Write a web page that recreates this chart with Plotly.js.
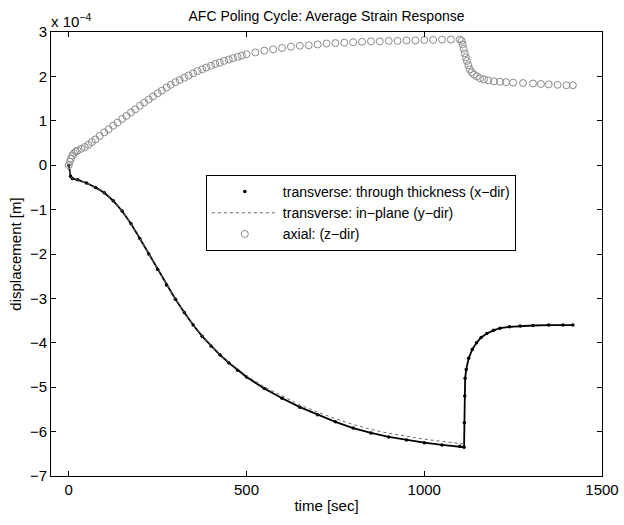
<!DOCTYPE html>
<html>
<head>
<meta charset="utf-8">
<script src="https://cdn.plot.ly/plotly-3.0.1.min.js"></script>
<style>html,body{margin:0;padding:0;background:#fff;}#chart{width:624px;height:525px;}</style>
</head>
<body>
<div id="chart"></div>
<script>
// time [sec] and displacement values (units of 1e-4 m)
var tThick = [0,5,10,25,50,75,100,125,150,175,200,225,250,275,300,325,350,375,400,425,450,475,500,550,600,650,700,750,800,850,900,950,1000,1050,1100,1112,1113,1114,1115,1118,1125,1135,1147,1160,1176,1195,1213,1240,1270,1306,1350,1390,1418];
var vThick = [0,-0.25,-0.30,-0.33,-0.40,-0.50,-0.62,-0.80,-1.03,-1.32,-1.65,-2.00,-2.35,-2.70,-3.02,-3.32,-3.60,-3.85,-4.07,-4.27,-4.45,-4.62,-4.77,-5.03,-5.25,-5.45,-5.62,-5.78,-5.92,-6.03,-6.12,-6.19,-6.25,-6.30,-6.33,-6.35,-5.80,-5.20,-4.80,-4.60,-4.35,-4.15,-4.00,-3.88,-3.79,-3.72,-3.67,-3.64,-3.62,-3.61,-3.60,-3.60,-3.60];

var tPlane = [0,5,10,25,50,75,100,125,150,175,200,225,250,275,300,325,350,375,400,425,450,475,500,550,600,650,700,750,800,850,900,950,1000,1050,1100,1112];
var vPlane = [0,-0.25,-0.30,-0.33,-0.40,-0.50,-0.62,-0.80,-1.03,-1.32,-1.65,-2.00,-2.35,-2.70,-3.02,-3.32,-3.60,-3.85,-4.07,-4.27,-4.44,-4.60,-4.74,-4.99,-5.20,-5.40,-5.56,-5.71,-5.84,-5.95,-6.04,-6.11,-6.17,-6.22,-6.26,-6.28];

var tAxial = [0,3,6,10,15,20,25,35,45,55,65,75,87,100,112,125,137,150,162,175,187,200,212,225,237,250,262,275,287,300,312,325,337,350,362,375,387,400,412,425,437,450,462,475,487,500,525,550,575,600,625,650,675,700,725,750,775,800,825,850,875,900,925,950,975,1000,1025,1050,1075,1100,1105,1108,1111,1114,1117,1120,1124,1128,1134,1140,1148,1157,1168,1180,1196,1213,1230,1250,1278,1306,1328,1350,1375,1400,1418];
var vAxial = [0,0.08,0.15,0.22,0.27,0.31,0.33,0.37,0.41,0.46,0.52,0.58,0.66,0.74,0.81,0.89,0.96,1.04,1.11,1.19,1.26,1.34,1.41,1.48,1.55,1.62,1.68,1.75,1.81,1.87,1.92,1.97,2.02,2.07,2.12,2.16,2.20,2.24,2.28,2.31,2.35,2.38,2.41,2.44,2.47,2.50,2.54,2.58,2.61,2.64,2.67,2.69,2.70,2.72,2.74,2.75,2.76,2.77,2.78,2.79,2.79,2.80,2.80,2.81,2.81,2.82,2.82,2.83,2.83,2.83,2.80,2.72,2.62,2.52,2.43,2.35,2.25,2.16,2.09,2.04,2.00,1.96,1.93,1.91,1.89,1.88,1.87,1.86,1.85,1.84,1.83,1.82,1.81,1.80,1.80];

var names = ['transverse: through thickness (x\u2212dir)','transverse: in\u2212plane (y\u2212dir)','axial: (z\u2212dir)'];
var xTicks = [0,500,1000,1500];
var yTicks = [-7,-6,-5,-4,-3,-2,-1,0,1,2,3];

var fam = '"Liberation Sans", Arial, sans-serif';
var tickFont = {family:fam, size:15, color:'#000'};
var titleFont = {family:fam, size:14, color:'#000'};
var legFont = {family:fam, size:14, color:'#000'};

var traces = [
  {x:tThick, y:vThick, mode:'lines', line:{color:'#000', width:1.8}, showlegend:false, hoverinfo:'skip'},
  {x:tThick, y:vThick, mode:'markers', name:names[0], marker:{symbol:'circle', size:3.5, color:'#000'}},
  {x:tPlane, y:vPlane, mode:'lines', name:names[1], line:{color:'#666', width:1, dash:'dot'}},
  {x:tAxial, y:vAxial, mode:'markers', name:names[2], marker:{symbol:'circle-open', size:7, color:'#8a8a8a', line:{width:1, color:'#8a8a8a'}}}
];

var axisCommon = {
  showgrid:false, zeroline:false, showline:true, mirror:'ticks', linecolor:'#000', linewidth:1,
  ticks:'inside', ticklen:5, tickcolor:'#000', tickfont:tickFont
};

var layout = {
  width:624, height:525,
  margin:{l:51, r:22, t:32, b:49},
  paper_bgcolor:'#fff', plot_bgcolor:'#fff',
  font:tickFont,
  title:{text:'AFC Poling Cycle: Average Strain Response', font:titleFont, xref:'paper', x:0.5, xanchor:'center', y:0.969, yref:'container', yanchor:'middle'},
  xaxis:Object.assign({}, axisCommon, {range:[-50,1500], tickvals:xTicks, ticktext:xTicks.map(String),
    title:{text:'time [sec]', font:tickFont, standoff:3}}),
  yaxis:Object.assign({}, axisCommon, {range:[-7,3], tickvals:yTicks, ticktext:yTicks.map(function(v){return v<0?'\u2212'+Math.abs(v):String(v);}),
    title:{text:'displacement [m]', font:tickFont, standoff:4}}),
  legend:{x:0.281, y:0.678, xanchor:'left', yanchor:'top', bgcolor:'#fff', bordercolor:'#000', borderwidth:1,
    font:legFont, itemwidth:66, tracegroupgap:0},
  annotations:[{xref:'paper', yref:'paper', x:0, y:1, xanchor:'left', yanchor:'bottom', yshift:0, xshift:-2,
    text:'x 10<sup>\u22124</sup>', showarrow:false, font:tickFont}]
};

Plotly.newPlot('chart', traces, layout, {displayModeBar:false, staticPlot:true});
</script>
</body>
</html>
